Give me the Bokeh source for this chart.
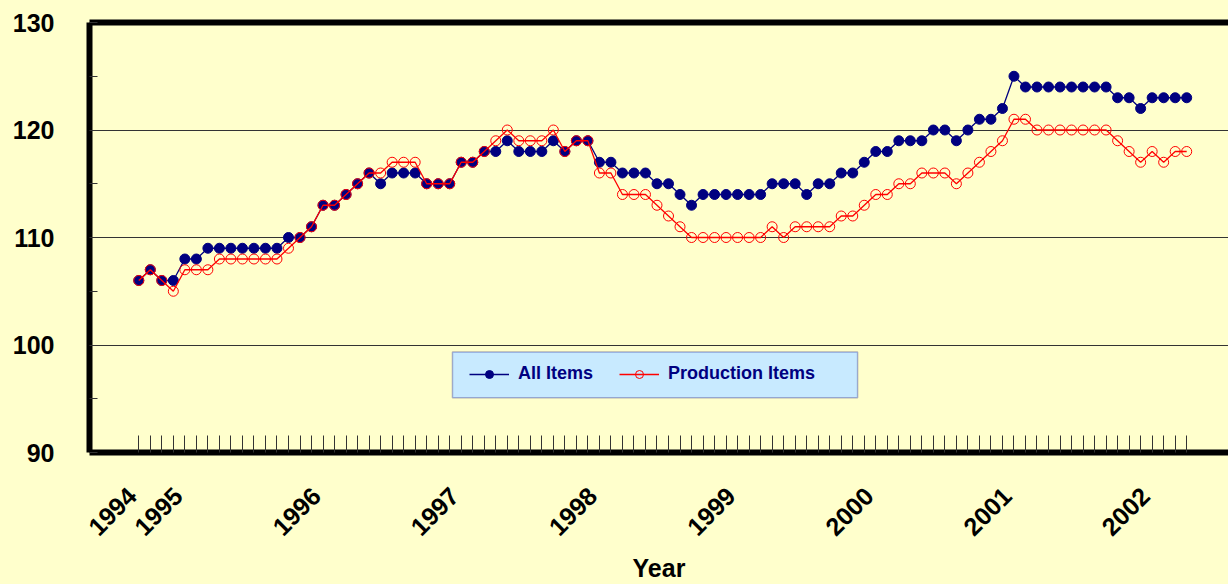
import math
import numpy as np
from bokeh.plotting import figure
from bokeh.models import (Range1d, FixedTicker, LinearAxis, Legend, LegendItem,
                          BoxAnnotation, ColumnDataSource)
from bokeh.embed import file_html
from bokeh.resources import INLINE

# ---- data (monthly, Sep 1994 .. Apr 2002) ----
all_items = [106, 107, 106, 106, 108, 108, 109, 109, 109, 109, 109, 109, 109,
             110, 110, 111, 113, 113, 114, 115, 116, 115, 116, 116, 116,
             115, 115, 115, 117, 117, 118, 118, 119, 118, 118, 118, 119, 118,
             119, 119, 117, 117, 116, 116, 116, 115, 115, 114, 113,
             114, 114, 114, 114, 114, 114, 115, 115, 115, 114, 115, 115,
             116, 116, 117, 118, 118, 119, 119, 119, 120, 120, 119, 120,
             121, 121, 122, 125, 124, 124, 124, 124, 124, 124, 124, 124,
             123, 123, 122, 123, 123, 123, 123]
production_items = [106, 107, 106, 105, 107, 107, 107, 108, 108, 108, 108, 108, 108,
                    109, 110, 111, 113, 113, 114, 115, 116, 116, 117, 117, 117,
                    115, 115, 115, 117, 117, 118, 119, 120, 119, 119, 119, 120, 118,
                    119, 119, 116, 116, 114, 114, 114, 113, 112, 111, 110,
                    110, 110, 110, 110, 110, 110, 111, 110, 111, 111, 111, 111,
                    112, 112, 113, 114, 114, 115, 115, 116, 116, 116, 115, 116,
                    117, 118, 119, 121, 121, 120, 120, 120, 120, 120, 120, 120,
                    119, 118, 117, 118, 117, 118, 118]
year_tick_index = [0, 4, 16, 28, 40, 52, 64, 76, 88]
year_labels = ["1994", "1995", "1996", "1997", "1998", "1999", "2000", "2001", "2002"]
y_major = [90, 100, 110, 120, 130]
y_minor = [95, 105, 115, 125]

x = list(range(len(all_items)))
src = ColumnDataSource(dict(x=x, a=all_items, p=production_items))

BG = "#FFFFCC"
NAVY = "#000080"
RED = "#FF0000"
FONT = "Liberation Sans"

p = figure(width=1228, height=584, output_backend="svg", toolbar_location=None,
           x_range=Range1d(-4.28, 94.63), y_range=Range1d(90, 130),
           x_axis_location="below", y_axis_location="left",
           min_border_left=89, min_border_top=22, min_border_right=0,
           min_border_bottom=130)
p.background_fill_color = BG
p.border_fill_color = BG
p.outline_line_color = None

# grid
p.xgrid.visible = False
p.ygrid.ticker = FixedTicker(ticks=[100, 110, 120])
p.ygrid.grid_line_color = "#333333"
p.ygrid.grid_line_width = 1

# y axis
ya = p.yaxis[0]
ya.ticker = FixedTicker(ticks=y_major, minor_ticks=y_minor)
ya.axis_line_width = 6
ya.axis_line_color = "black"
ya.major_tick_in = 8
ya.major_tick_out = 0
ya.minor_tick_in = 8
ya.minor_tick_out = 0
ya.major_tick_line_color = "#333333"
ya.minor_tick_line_color = "#333333"
ya.major_label_text_font = FONT
ya.major_label_text_font_style = "bold"
ya.major_label_text_font_size = "25px"
ya.major_label_text_color = "black"
ya.major_label_standoff = 35

# x axis: year labels (nudged slightly left like the original), monthly tick marks
label_pos = [i - 0.6 for i in year_tick_index]
xa = p.xaxis[0]
xa.ticker = FixedTicker(ticks=label_pos, minor_ticks=x)
xa.major_label_overrides = {pos: s for pos, s in zip(label_pos, year_labels)}
xa.axis_line_width = 6
xa.axis_line_color = "black"
xa.major_tick_in = 0
xa.major_tick_out = 0
xa.major_tick_line_color = None
xa.minor_tick_in = 17
xa.minor_tick_out = 0
xa.minor_tick_line_color = "#333333"
xa.major_label_orientation = math.pi / 4
xa.major_label_text_font = FONT
xa.major_label_text_font_style = "bold"
xa.major_label_text_font_size = "25px"
xa.major_label_text_color = "black"
xa.major_label_standoff = 39
xa.axis_label = "Year"
xa.axis_label_text_font = FONT
xa.axis_label_text_font_style = "bold"
xa.axis_label_text_font_size = "25px"
xa.axis_label_text_color = "black"
xa.axis_label_standoff = 7

# top border as an axis without ticks
top = LinearAxis(ticker=FixedTicker(ticks=[]), axis_line_width=6, axis_line_color="black",
                 major_tick_in=0, major_tick_out=0, minor_tick_in=0, minor_tick_out=0,
                 major_label_standoff=0, major_label_text_font_size="0px")
p.add_layout(top, "above")

# series
la = p.line("x", "a", source=src, line_color=NAVY, line_width=1.3)
sa = p.scatter("x", "a", source=src, size=10, marker="circle",
               fill_color=NAVY, line_color=NAVY)
lp = p.line("x", "p", source=src, line_color=RED, line_width=1.3)
sp = p.scatter("x", "p", source=src, size=10, marker="circle",
               fill_color=None, line_color=RED, line_width=1)

# legend box
box = BoxAnnotation(left=27.24, right=62.42, top=99.35, bottom=95.09,
                    fill_color="#C8EAFF", fill_alpha=1.0,
                    line_color=NAVY, line_width=1.5)
p.add_layout(box)

legend = Legend(items=[LegendItem(label="All Items", renderers=[la, sa]),
                       LegendItem(label="Production Items", renderers=[lp, sp])],
                orientation="horizontal", location=(380, 68),
                background_fill_alpha=0, border_line_alpha=0,
                padding=0, margin=0, spacing=26,
                glyph_width=40, glyph_height=20, label_standoff=9,
                label_text_font=FONT, label_text_font_style="bold",
                label_text_font_size="18px", label_text_color=NAVY)
p.add_layout(legend, "center")

html = file_html(p, INLINE)
html = html.replace("<head>", "<head><style>html,body{background:#FFFFCC;}</style>", 1)
open("out.html", "w").write(html)
